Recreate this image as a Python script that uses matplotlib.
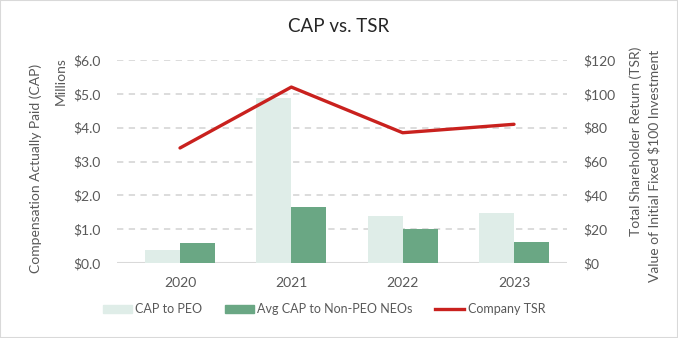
#!/usr/bin/env python3

import matplotlib
import matplotlib.pyplot as plt
import numpy as np
from matplotlib.patches import Patch, Rectangle
from matplotlib.lines import Line2D
from matplotlib.ticker import FuncFormatter

matplotlib.use('Agg')

years = ['2020', '2021', '2022', '2023']
cap_peo = [0.38, 4.88, 1.40, 1.48]          # $ millions
cap_non_peo = [0.59, 1.66, 1.01, 0.63]      # $ millions
company_tsr = [68, 104, 77, 82]             # value of $100

LIGHT = '#dfede8'
GREEN = '#6aa784'
RED = '#c9211e'
GRAY = '#595959'
GRID = '#d9d9d9'
FS = 10

plt.rcParams['font.family'] = ['Lato', 'DejaVu Sans']

fig = plt.figure(figsize=(6.78, 3.38), dpi=100)
ax = fig.add_axes([117 / 678, 1 - 263 / 338, 450 / 678, 203 / 338])
ax2 = ax.twinx()

x = np.arange(len(years))
w = 0.314
ax.bar(x - w / 2, cap_peo, w, color=LIGHT, zorder=2)
ax.bar(x + w / 2, cap_non_peo, w, color=GREEN, zorder=2)
ax2.plot(x, company_tsr, color=RED, lw=2.4, solid_capstyle='round', zorder=3)

ax.set_xlim(-0.566, 3.476)
ax.set_ylim(0, 6)
ax2.set_ylim(0, 120)
ax.set_yticks(np.arange(0, 6.01, 1))
ax2.set_yticks(np.arange(0, 121, 20))
ax.yaxis.set_major_formatter(FuncFormatter(lambda v, _: f'${v:.1f}'))
ax2.yaxis.set_major_formatter(FuncFormatter(lambda v, _: f'${v:.0f}'))
ax.set_xticks(x)
ax.set_xticklabels(years)

for v in range(1, 7):
    ax.axhline(v, color=GRID, lw=1.3, dashes=(3.5, 3), zorder=1)
ax.axhline(0, color=GRID, lw=1.5, zorder=1)

for a in (ax, ax2):
    for s in a.spines.values():
        s.set_visible(False)
    a.tick_params(length=0, labelsize=FS, labelcolor=GRAY)
ax.tick_params(axis='y', pad=12)
ax2.tick_params(axis='y', pad=12)
ax.tick_params(axis='x', pad=10)

fig.text(339 / 678, 1 - 26 / 338, 'CAP vs. TSR', ha='center', va='center',
         fontsize=13.5, color='#262626')
fig.text(36 / 678, 1 - 168 / 338, 'Compensation Actually Paid (CAP)', rotation=90,
         ha='center', va='center', fontsize=FS, color=GRAY)
fig.text(61 / 678, 1 - 81 / 338, 'Millions', rotation=90,
         ha='center', va='center', fontsize=FS, color=GRAY)
fig.text(636 / 678, 1 - 141 / 338, 'Total Shareholder Return (TSR)', rotation=90,
         ha='center', va='center', fontsize=FS, color=GRAY)
fig.text(654 / 678, 1 - 166 / 338, 'Value of Initial Fixed $100 Investment', rotation=90,
         ha='center', va='center', fontsize=FS, color=GRAY)

handles = [Patch(color=LIGHT), Patch(color=GREEN), Line2D([], [], color=RED, lw=2.4)]
labels = ['CAP to PEO', 'Avg CAP to Non-PEO NEOs', 'Company TSR']
leg = fig.legend(handles, labels, loc='center', bbox_to_anchor=(324 / 678, 1 - 309 / 338),
                 ncol=3, frameon=False, fontsize=9, handlelength=2.3, handleheight=0.6,
                 handletextpad=0.3, columnspacing=1.8, labelcolor=GRAY)

fig.patches.append(Rectangle((0, 0), 1, 1, transform=fig.transFigure, fill=False,
                             edgecolor=GRID, lw=1.5))

fig.savefig('out.png', dpi=100)
